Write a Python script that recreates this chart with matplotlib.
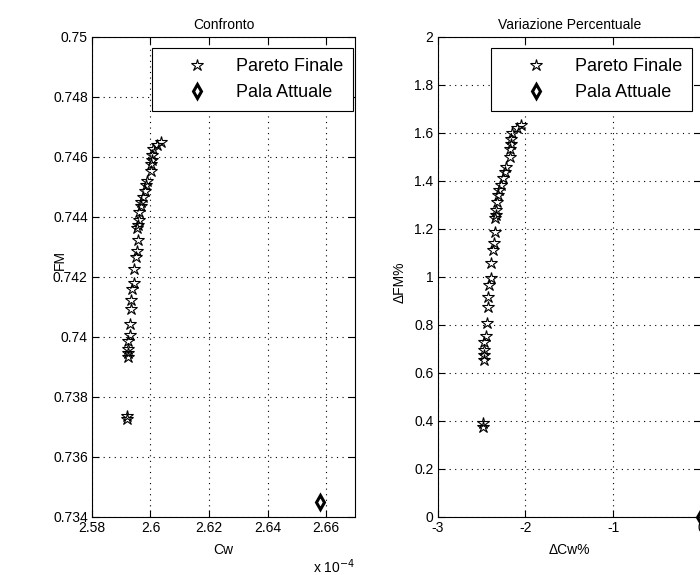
import matplotlib
matplotlib.use("Agg")
import matplotlib.pyplot as plt
from matplotlib.ticker import FuncFormatter, MultipleLocator
import numpy as np

# Pareto front (Cw in units of 1e-4)
cw_pareto = np.array([2.6035, 2.6022, 2.6008, 2.6004, 2.6006, 2.6003, 2.6002, 2.5988,
                      2.5985, 2.5980, 2.5974, 2.5969, 2.5966, 2.5962, 2.5960, 2.5958,
                      2.5955, 2.5957, 2.5954, 2.5950, 2.5944, 2.5943, 2.5938, 2.5935,
                      2.5934, 2.5931, 2.5929, 2.5924, 2.5923, 2.5923, 2.5922, 2.5919,
                      2.5919]) * 1e-4
fm_pareto = [0.74650, 0.74640, 0.74625, 0.74605, 0.74590, 0.74575, 0.74552, 0.74520,
             0.74505, 0.74488, 0.74465, 0.74451, 0.74436, 0.74415, 0.74389, 0.74374,
             0.74364, 0.74323, 0.74287, 0.74267, 0.74226, 0.74180, 0.74160, 0.74124,
             0.74093, 0.74043, 0.74005, 0.73985, 0.73960, 0.73945, 0.73932, 0.73737,
             0.73726]
cw_attuale = [2.658e-4]
fm_attuale = [0.7345]

# percentage variation w.r.t. current blade
dcw_pareto = [-2.050, -2.099, -2.152, -2.167, -2.160, -2.171, -2.175, -2.227,
              -2.239, -2.257, -2.280, -2.299, -2.310, -2.325, -2.333, -2.340,
              -2.351, -2.344, -2.355, -2.370, -2.393, -2.397, -2.415, -2.427,
              -2.430, -2.442, -2.449, -2.468, -2.472, -2.472, -2.476, -2.487,
              -2.487]
dfm_pareto = [1.634, 1.620, 1.600, 1.573, 1.552, 1.532, 1.500, 1.457,
              1.436, 1.413, 1.382, 1.363, 1.342, 1.314, 1.278, 1.258,
              1.244, 1.189, 1.140, 1.112, 1.057, 0.994, 0.967, 0.918,
              0.875, 0.807, 0.756, 0.728, 0.694, 0.674, 0.656, 0.391,
              0.376]
dcw_attuale = [0.0]
dfm_attuale = [0.0]

plt.rcParams["font.family"] = ["Liberation Sans", "DejaVu Sans"]
plt.rcParams["font.size"] = 10
plt.rcParams["axes.unicode_minus"] = False

fig = plt.figure(figsize=(7, 5.75), dpi=100)
ax1 = fig.add_axes([0.1314, 0.1009, 0.3762, 0.8348])
ax2 = fig.add_axes([0.6253, 0.1009, 0.3762, 0.8348])

star = dict(marker="*", linestyle="none", ms=9, mfc="none", mec="k", mew=0.8)
diam = dict(marker="d", linestyle="none", ms=7.5, mfc="none", mec="k", mew=2.2)

ax1.plot(cw_pareto, fm_pareto, label="Pareto Finale", **star)
ax1.plot(cw_attuale, fm_attuale, label="Pala Attuale", **diam)
ax1.set_xlim(2.58e-4, 2.67e-4)
ax1.set_ylim(0.734, 0.75)
ax1.xaxis.set_major_locator(MultipleLocator(0.02e-4))
ax1.yaxis.set_major_locator(MultipleLocator(0.002))
ax1.xaxis.set_major_formatter(FuncFormatter(lambda v, p: f"{v*1e4:g}"))
ax1.yaxis.set_major_formatter(FuncFormatter(lambda v, p: f"{v:g}"))
ax1.set_title("Confronto", fontsize=10, pad=6)
ax1.set_xlabel("Cw", labelpad=6)
ax1.set_ylabel("FM")
ax1.yaxis.set_label_coords(-0.095, 0.535)
ax1.text(1.0, -0.085, "x 10$^{-4}$", transform=ax1.transAxes, ha="right", va="top")

ax2.plot(dcw_pareto, dfm_pareto, label="Pareto Finale", **star)
ax2.plot(dcw_attuale, dfm_attuale, label="Pala Attuale", clip_on=False, **diam)
ax2.set_xlim(-3, 0)
ax2.set_ylim(0, 2)
ax2.xaxis.set_major_locator(MultipleLocator(1))
ax2.yaxis.set_major_locator(MultipleLocator(0.2))
ax2.yaxis.set_major_formatter(FuncFormatter(lambda v, p: f"{v:g}"))
ax2.set_title("Variazione Percentuale", fontsize=10, pad=6)
ax2.set_xlabel("ΔCw%", labelpad=6)
ax2.set_ylabel("ΔFM%")
ax2.yaxis.set_label_coords(-0.118, 0.49)

for ax, anchor in ((ax1, (0.991, 0.977)), (ax2, (0.966, 0.977))):
    ax.grid(True, linestyle=(0, (1, 4)), color="k", linewidth=0.8)
    ax.tick_params(direction="in", top=True, right=True, length=5, width=0.8, pad=3)
    for s in ax.spines.values():
        s.set_linewidth(0.8)
    leg = ax.legend(loc="upper right", bbox_to_anchor=anchor, borderaxespad=0,
                    fancybox=False, edgecolor="k", framealpha=1,
                    handletextpad=0.2, handlelength=3.9,
                    borderpad=0.55, labelspacing=0.5, fontsize=13)
    leg.get_frame().set_linewidth(0.8)

fig.savefig("out.png", dpi=100)
